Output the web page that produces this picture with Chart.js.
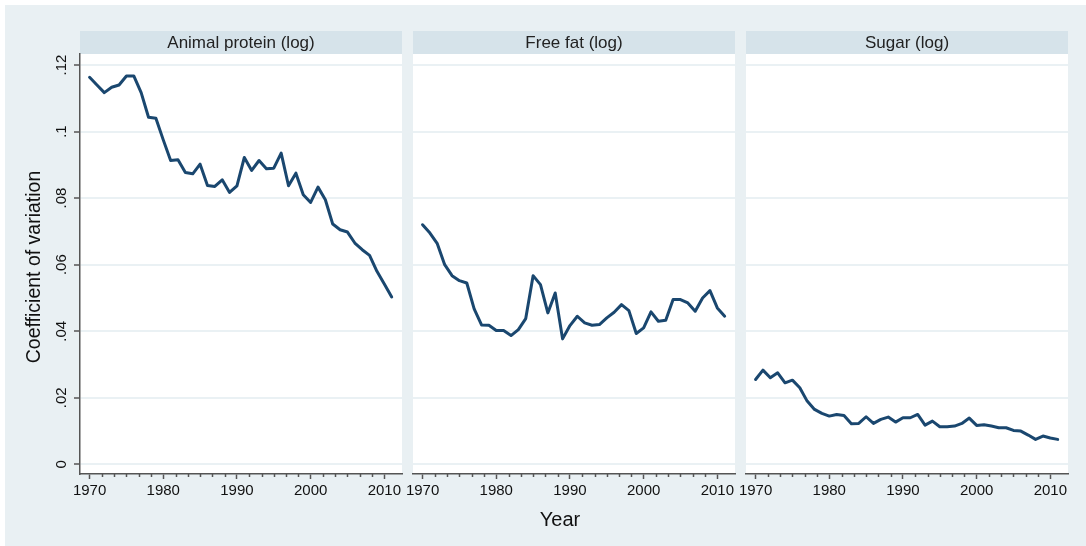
<!DOCTYPE html>
<html>
<head>
<meta charset="utf-8">
<script src="https://cdn.jsdelivr.net/npm/chart.js@4.4.1/dist/chart.umd.min.js"></script>
<style>
  html, body { margin: 0; padding: 0; background: #fff; }
  #frame { position: absolute; left: 5px; top: 5px; width: 1081px; height: 541px; background: #e9f0f3; }
  canvas { position: absolute; left: 0; top: 0; }
</style>
</head>
<body>
<div id="frame"></div>
<canvas id="c1" width="1086" height="546"></canvas>
<canvas id="c2" width="1086" height="546"></canvas>
<canvas id="c3" width="1086" height="546"></canvas>
<script>
const years = [1970, 1971, 1972, 1973, 1974, 1975, 1976, 1977, 1978, 1979,
  1980, 1981, 1982, 1983, 1984, 1985, 1986, 1987, 1988, 1989,
  1990, 1991, 1992, 1993, 1994, 1995, 1996, 1997, 1998, 1999,
  2000, 2001, 2002, 2003, 2004, 2005, 2006, 2007, 2008, 2009,
  2010, 2011];

const animalProtein = [0.1163, 0.114, 0.1117, 0.1133, 0.114, 0.1167, 0.1167, 0.1117, 0.1043, 0.104,
  0.0975, 0.0913, 0.0915, 0.0877, 0.0873, 0.0902, 0.0838, 0.0835, 0.0855, 0.0817,
  0.0837, 0.0922, 0.0883, 0.0913, 0.0888, 0.089, 0.0935, 0.0837, 0.0875, 0.081,
  0.0787, 0.0833, 0.0795, 0.0722, 0.0705, 0.0698, 0.0665, 0.0645, 0.0628, 0.058,
  0.0542, 0.0503];

const freeFat = [0.072, 0.0695, 0.0663, 0.060, 0.0567, 0.0552, 0.0545, 0.0467, 0.0419, 0.0418,
  0.0402, 0.0402, 0.0387, 0.0405, 0.0438, 0.0567, 0.054, 0.0455, 0.0515, 0.0377,
  0.0417, 0.0445, 0.0425, 0.0418, 0.042, 0.044, 0.0457, 0.048, 0.0462, 0.0393,
  0.041, 0.0458, 0.043, 0.0433, 0.0495, 0.0495, 0.0485, 0.046, 0.05, 0.0522,
  0.047, 0.0445];

const sugar = [0.0255, 0.0283, 0.026, 0.0275, 0.0245, 0.0253, 0.023, 0.019, 0.0165, 0.0153,
  0.0145, 0.015, 0.0147, 0.0122, 0.0123, 0.0143, 0.0123, 0.0135, 0.0142, 0.0127,
  0.014, 0.014, 0.015, 0.0118, 0.013, 0.0113, 0.0113, 0.0115, 0.0123, 0.0139,
  0.0117, 0.0119, 0.0115, 0.011, 0.011, 0.0102, 0.01, 0.0088, 0.0075, 0.0085,
  0.0079, 0.0075];

const panelTitles = ["Animal protein (log)", "Free fat (log)", "Sugar (log)"];
const xTicks = [1970, 1980, 1990, 2000, 2010];
const yTicks = [0, 0.02, 0.04, 0.06, 0.08, 0.1, 0.12];
const yTickLabels = ["0", ".02", ".04", ".06", ".08", ".1", ".12"];
const yTitle = "Coefficient of variation";
const xTitle = "Year";

const FONT = "'Liberation Sans', Arial, sans-serif";
const AXIS = "#555";

// header strip, white plot area, minor ticks, rotated y labels
const panelPlugin = {
  id: "panelStrip",
  beforeDraw(chart, args, opts) {
    const { ctx, chartArea: a } = chart;
    ctx.save();
    ctx.fillStyle = "#fff";
    ctx.fillRect(a.left, a.top, a.right - a.left, a.bottom - a.top);
    ctx.fillStyle = "#d6e3ea";
    ctx.fillRect(a.left, 31, a.right - a.left, 23);
    ctx.fillStyle = "#222";
    ctx.font = "17px " + FONT;
    ctx.textAlign = "center";
    ctx.textBaseline = "middle";
    ctx.fillText(opts.title, (a.left + a.right) / 2, 43);
    ctx.restore();
  },
  afterDraw(chart, args, opts) {
    const { ctx, chartArea: a } = chart;
    const xs = chart.scales.x;
    ctx.save();
    ctx.strokeStyle = AXIS;
    ctx.lineWidth = 1.5;
    ctx.beginPath();
    for (let i = 0; i < xTicks.length - 1; i++) {
      const step = (xTicks[i + 1] - xTicks[i]) / 6;
      for (let k = 1; k < 6; k++) {
        const px = Math.round(xs.getPixelForValue(xTicks[i] + k * step)) + 0.5;
        ctx.moveTo(px, a.bottom);
        ctx.lineTo(px, a.bottom + 3);
      }
    }
    ctx.stroke();

    if (opts.showY) {
      const ys = chart.scales.y;
      ctx.fillStyle = "#111";
      ctx.font = "15px " + FONT;
      ctx.textAlign = "center";
      ctx.textBaseline = "middle";
      yTicks.forEach((v, i) => {
        ctx.save();
        ctx.translate(62, ys.getPixelForValue(v));
        ctx.rotate(-Math.PI / 2);
        ctx.fillText(yTickLabels[i], 0, 0);
        ctx.restore();
      });
      ctx.font = "19.5px " + FONT;
      ctx.save();
      ctx.translate(35, 267);
      ctx.rotate(-Math.PI / 2);
      ctx.fillText(yTitle, 0, 0);
      ctx.restore();
    }
    if (opts.showXTitle) {
      ctx.fillStyle = "#111";
      ctx.font = "20px " + FONT;
      ctx.textAlign = "center";
      ctx.textBaseline = "middle";
      ctx.fillText(xTitle, 560, 520);
    }
    ctx.restore();
  }
};

function makePanel(id, title, values, left, showY, showXTitle) {
  const width = 322;
  new Chart(document.getElementById(id), {
    type: "line",
    data: {
      datasets: [{
        data: years.map((yr, i) => ({ x: yr, y: values[i] })),
        borderColor: "#1a476f",
        borderWidth: 3,
        pointRadius: 0,
        tension: 0,
        borderJoinStyle: "round",
        borderCapStyle: "round",
        fill: false
      }]
    },
    options: {
      responsive: false,
      animation: false,
      events: [],
      layout: { padding: { left: left, right: 1086 - left - width, top: 54, bottom: 0 } },
      plugins: {
        legend: { display: false },
        tooltip: { enabled: false },
        panelStrip: { title, showY, showXTitle }
      },
      scales: {
        x: {
          type: "linear",
          min: 1968.7,
          max: 2012.4,
          afterFit: s => { s.height = 72; },
          afterBuildTicks: s => { s.ticks = xTicks.map(v => ({ value: v })); },
          grid: { drawOnChartArea: false, drawTicks: true, tickLength: 5, tickColor: AXIS, tickWidth: 1.5 },
          border: { color: AXIS, width: 1.5 },
          ticks: {
            padding: 3, color: "#111", autoSkip: false, maxRotation: 0,
            font: { family: FONT, size: 15 },
            callback: v => String(v)
          }
        },
        y: {
          type: "linear",
          min: -0.0029,
          max: 0.1233,
          afterFit: s => { s.width = 0; },
          afterBuildTicks: s => { s.ticks = yTicks.map(v => ({ value: v })); },
          grid: { color: "#eaf1f4", lineWidth: 2, drawTicks: showY, tickLength: 6, tickColor: AXIS, tickWidth: 1.5 },
          border: { display: showY, color: AXIS, width: 1.5 },
          ticks: { display: false }
        }
      }
    },
    plugins: [panelPlugin]
  });
}

makePanel("c1", panelTitles[0], animalProtein, 80, true, false);
makePanel("c2", panelTitles[1], freeFat, 413, false, true);
makePanel("c3", panelTitles[2], sugar, 746, false, false);
</script>
</body>
</html>
